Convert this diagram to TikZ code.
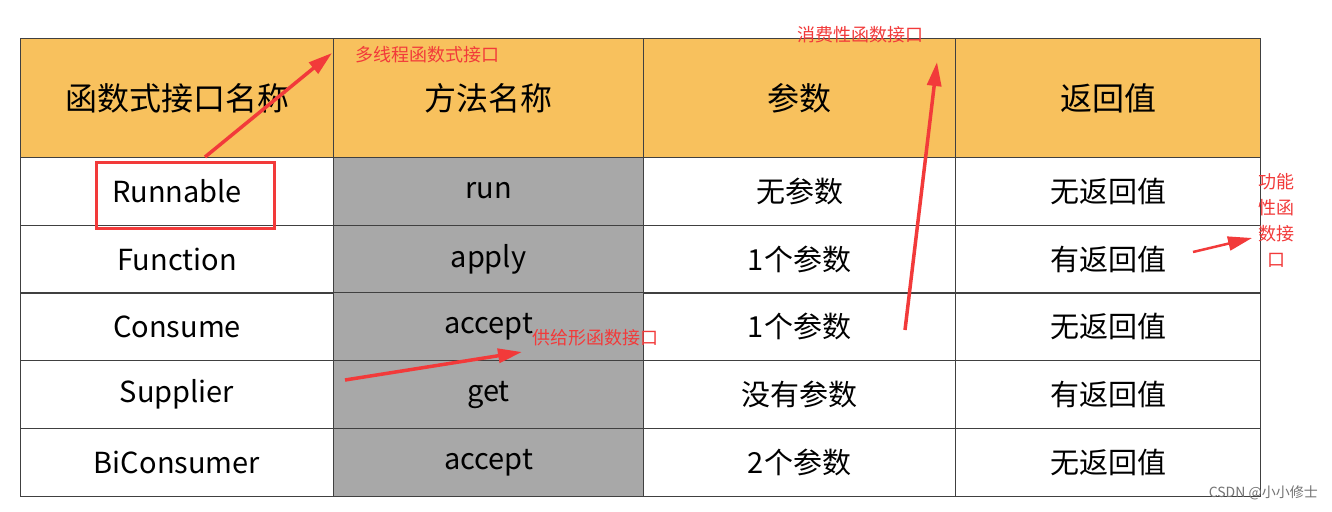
\documentclass[tikz,border=0pt]{standalone}
\usepackage{fontspec}
\setmainfont{Noto Sans CJK SC}
\usetikzlibrary{arrows.meta}
\definecolor{hdr}{HTML}{F8C15D}
\definecolor{gry}{HTML}{A8A8A8}
\definecolor{ann}{HTML}{F23A3A}
\begin{document}
\begin{tikzpicture}[x=1pt,y=-1pt,
  cell/.style={draw=black!75,line width=1pt,anchor=north west,inner sep=0pt,font=\fontsize{29}{32}\selectfont},
  hcell/.style={cell,fill=hdr,minimum height=119pt,font=\fontsize{32}{36}\selectfont},
  note/.style={text=ann,font=\fontsize{18}{21}\selectfont,inner sep=0pt},
  arr/.style={draw=ann,line width=3.5pt,-{Triangle[length=24pt,width=14pt]}}]
\useasboundingbox (0,0) rectangle (1332,511);
\fill[white] (0,0) rectangle (1332,511);
% header
\node[hcell,minimum width=313pt] (h1) at (20,38) {函数式接口名称};
\node[hcell,minimum width=310pt] (h2) at (333,38) {方法名称};
\node[hcell,minimum width=312pt] (h3) at (643,38) {参数};
\node[hcell,minimum width=305pt] (h4) at (955,38) {返回值};
% rows
\foreach \y/\a/\b/\c/\d/\i in {157/Runnable/run/无参数/无返回值/1,225/Function/apply/1个参数/有返回值/2,292/Consume/accept/1个参数/无返回值/3,360/Supplier/get/没有参数/有返回值/4,428/BiConsumer/accept/2个参数/无返回值/5}{
  \node[cell,minimum width=313pt,minimum height=68pt] (a\i) at (20,\y) {\a};
  \node[cell,fill=gry,minimum width=310pt,minimum height=68pt] (b\i) at (333,\y) {\vphantom{Apg}\b};
  \node[cell,minimum width=312pt,minimum height=68pt] (c\i) at (643,\y) {\c};
  \node[cell,minimum width=305pt,minimum height=68pt] (d\i) at (955,\y) {\d};
}
% annotations
\node[draw=ann,line width=3pt,minimum width=178pt,minimum height=66pt,inner sep=0pt] (box) at (185,195) {};
\node[note,anchor=west] (n1) at (355,55) {多线程函数式接口};
\node[note,anchor=west] (n2) at (797,35) {消费性函数接口};
\node[note,anchor=west] (n3) at (532,338) {供给形函数接口};
\node[note,align=center,font=\fontsize{18}{26}\selectfont] (n4) at (1276,220) {功能\\性函\\数接\\口};
\coordinate (s1) at (205,157);
\coordinate (s2) at (905,330);
\coordinate (s3) at (345,380);
\coordinate (s4) at (1193,252);
\draw[arr] (s1) -- (332,53);
\draw[arr] (s2) -- (937,62);
\draw[arr] (s3) -- (522,352);
\draw[arr,line width=2.5pt] (s4) -- (1252,238);
\node[text=black!55,font=\fontsize{14}{16}\selectfont,anchor=east,inner sep=0pt] (wm) at (1318,493) {CSDN @小小修士};
\end{tikzpicture}
\end{document}
